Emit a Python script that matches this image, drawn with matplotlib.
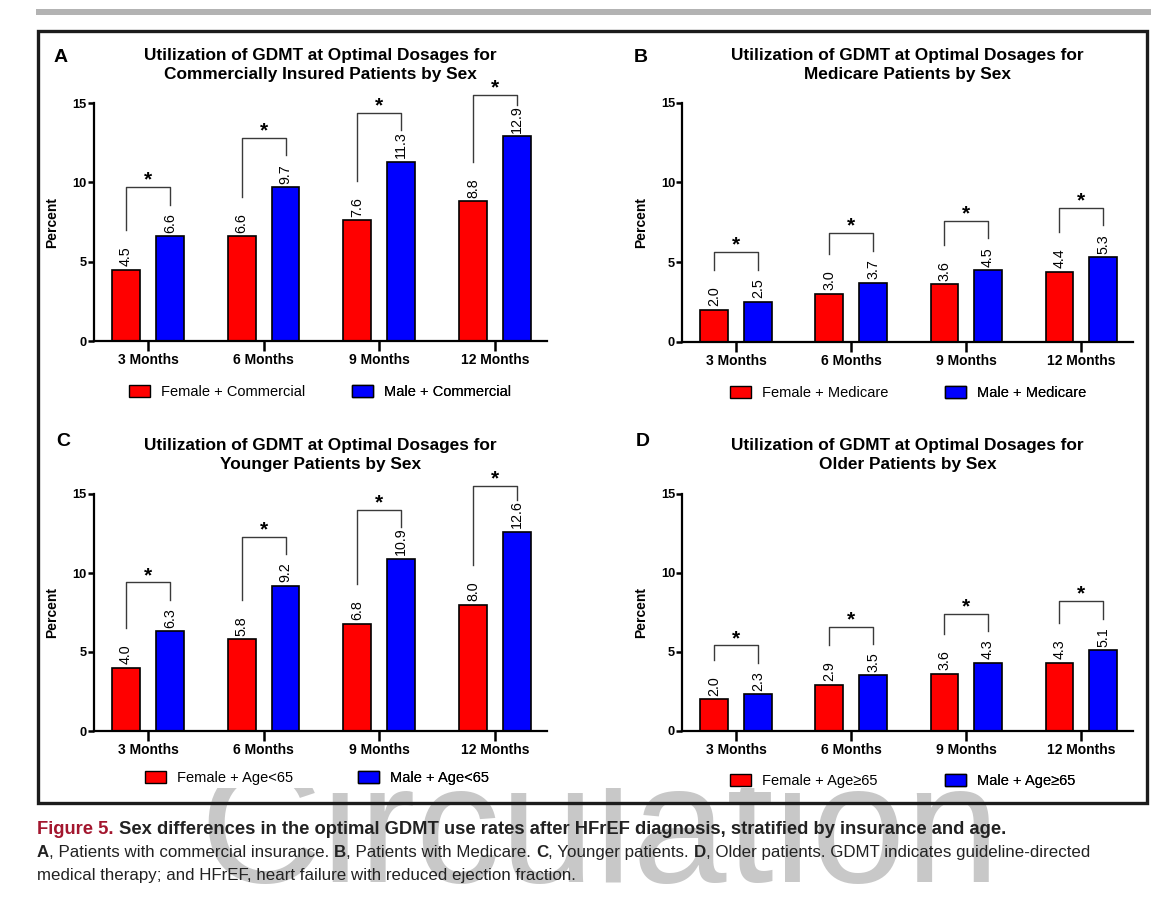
import numpy as np
import matplotlib
matplotlib.use("Agg")
import matplotlib.pyplot as plt
from matplotlib.patches import Rectangle, Patch
from matplotlib.transforms import Bbox

plt.rcParams['font.family'] = ['Liberation Sans', 'DejaVu Sans']

# data
months = ['3 Months', '6 Months', '9 Months', '12 Months']

female_commercial = [4.5, 6.6, 7.6, 8.8]
male_commercial = [6.6, 9.7, 11.3, 12.9]
female_medicare = [2.0, 3.0, 3.6, 4.4]
male_medicare = [2.5, 3.7, 4.5, 5.3]
female_young = [4.0, 5.8, 6.8, 8.0]
male_young = [6.3, 9.2, 10.9, 12.6]
female_old = [2.0, 2.9, 3.6, 4.3]
male_old = [2.3, 3.5, 4.3, 5.1]

letters = ['A', 'B', 'C', 'D']
titles = [('Utilization of GDMT at Optimal Dosages for', 'Commercially Insured Patients by Sex'),
          ('Utilization of GDMT at Optimal Dosages for', 'Medicare Patients by Sex'),
          ('Utilization of GDMT at Optimal Dosages for', 'Younger Patients by Sex'),
          ('Utilization of GDMT at Optimal Dosages for', 'Older Patients by Sex')]
female_names = ['Female + Commercial', 'Female + Medicare', 'Female + Age<65', 'Female + Age\u226565']
male_names = ['Male + Commercial', 'Male + Medicare', 'Male + Age<65', 'Male + Age\u226565']
female_vals = [female_commercial, female_medicare, female_young, female_old]
male_vals = [male_commercial, male_medicare, male_young, male_old]

W, H = 1175, 898
fig = plt.figure(figsize=(W / 100, H / 100), dpi=100)

# background layer in pixel coords
bg = fig.add_axes([0, 0, 1, 1])
bg.set_xlim(0, W)
bg.set_ylim(H, 0)
bg.axis('off')
bg.add_patch(Rectangle((36, 9), 1115, 6, color='#b3b3b3', lw=0))
# journal watermark, only the part below the figure image shows
wm = bg.text(600, 882, 'Circulation', fontsize=122, color='#c8c8c8', ha='center', va='baseline', zorder=1)
wm.set_clip_on(True)
wm.set_clip_box(Bbox.from_extents(0, 0, W, H - 788))
bg.add_patch(Rectangle((38, 31), 1109, 772, fill=False, ec='#1c1c1c', lw=2.4, zorder=2))

# panel layout (pixels): left, right, y of 0, y of 15
boxes = [(93.6, 547, 341, 103), (682, 1133, 341.7, 102.7),
         (93.6, 547, 731, 494), (682, 1133, 730.7, 494)]
letter_pos = [(61, 57), (641, 57), (63, 442), (643, 442)]
title_y = [(60, 79.5), (60, 79.5), (450, 469.5), (450, 469.5)]
leg_x = [(0.078, 0.571), (0.106, 0.584), (0.113, 0.583), (0.106, 0.584)]
leg_y = [-0.214, -0.214, -0.198, -0.213]

red = '#ff0000'
blue = '#0000ff'
x = np.arange(len(months))
off = 0.19
bw = 0.24

for i in range(4):
    l, r, y0, y15 = boxes[i]
    ax = fig.add_axes([l / W, 1 - y0 / H, (r - l) / W, (y0 - y15) / H])
    ax.patch.set_alpha(0)
    fv = female_vals[i]
    mv = male_vals[i]
    ax.bar(x - off, fv, bw, color=red, edgecolor='black', lw=1.2, label=female_names[i])
    ax.bar(x + off, mv, bw, color=blue, edgecolor='black', lw=1.2, label=male_names[i])
    for xi, v in zip(x - off, fv):
        ax.annotate(f'{v:.1f}', (xi, v), xytext=(0, 2.5), textcoords='offset points',
                    rotation=90, ha='center', va='bottom', fontsize=10.3)
    for xi, v in zip(x + off, mv):
        ax.annotate(f'{v:.1f}', (xi, v), xytext=(0, 2.5), textcoords='offset points',
                    rotation=90, ha='center', va='bottom', fontsize=10.3)
    # significance brackets
    for xi, f, m in zip(x, fv, mv):
        top = min(m + 3.1, 15.5)
        ax.plot([xi - off, xi - off, xi + off, xi + off],
                [min(f + 2.5, top), top, top, min(m + 2.0, top)],
                color='#3a3a3a', lw=1.0, clip_on=False)
        ax.text(xi, top + 0.1, '*', ha='center', va='baseline', fontsize=15, fontweight='bold')

    ax.set_xlim(-0.47, 3.45)
    ax.set_ylim(0, 15)
    ax.set_yticks([0, 5, 10, 15])
    ax.set_xticks(x)
    ax.set_xticklabels(months, fontsize=10, fontweight='bold')
    for t in ax.get_yticklabels():
        t.set_fontweight('bold')
        t.set_fontsize(9.3)
    ax.tick_params(axis='y', length=4, width=1.8, pad=1)
    ax.tick_params(axis='x', length=7, width=1.8, pad=2)
    for s in ['top', 'right']:
        ax.spines[s].set_visible(False)
    for s in ['left', 'bottom']:
        ax.spines[s].set_linewidth(1.6)
    ax.set_ylabel('Percent', fontsize=10, fontweight='bold')
    ax.yaxis.set_label_coords(-0.075, 0.5)

    cx = (l + r) / 2
    for line, ty in zip(titles[i], title_y[i]):
        bg.text(cx, ty, line, ha='center', va='baseline', fontsize=12.4, fontweight='bold')
    bg.text(letter_pos[i][0], letter_pos[i][1], letters[i], ha='center', va='center',
            fontsize=14, fontweight='bold')

    hs = [Patch(facecolor=red, edgecolor='black', lw=1.0), Patch(facecolor=blue, edgecolor='black', lw=1.0)]
    for j in range(2):
        lg = ax.legend([hs[j]], [[female_names[i], male_names[i]][j]], loc='center left',
                       bbox_to_anchor=(leg_x[i][j], leg_y[i]), frameon=False, fontsize=10.5,
                       handlelength=1.44, handleheight=0.86, handletextpad=0.75,
                       borderpad=0, borderaxespad=0)
        ax.add_artist(lg)

# caption


def chain(x0, y0, parts, size):
    prev = None
    for s, wt, col in parts:
        if prev is None:
            prev = bg.text(x0, y0, s, fontsize=size, fontweight=wt, color=col,
                           ha='left', va='bottom', zorder=3)
        else:
            prev = bg.annotate(s, xy=(1, 0), xycoords=prev, fontsize=size, fontweight=wt,
                               color=col, ha='left', va='bottom', zorder=3)


dark = '#222222'
chain(37, 838, [('Figure 5. ', 'bold', '#a3162e'),
                ('Sex differences in the optimal GDMT use rates after HFrEF diagnosis, stratified by insurance and age.',
                 'bold', dark)], 13.2)
chain(37, 859.6, [('A', 'bold', dark), (', Patients with commercial insurance. ', 'normal', dark),
                  ('B', 'bold', dark), (', Patients with Medicare. ', 'normal', dark),
                  ('C', 'bold', dark), (', Younger patients. ', 'normal', dark),
                  ('D', 'bold', dark), (', Older patients. GDMT indicates guideline-directed', 'normal', dark)], 12.2)
chain(37, 882.6, [('medical therapy; and HFrEF, heart failure with reduced ejection fraction.', 'normal', dark)], 12.2)

fig.savefig('out.png', dpi=100)
